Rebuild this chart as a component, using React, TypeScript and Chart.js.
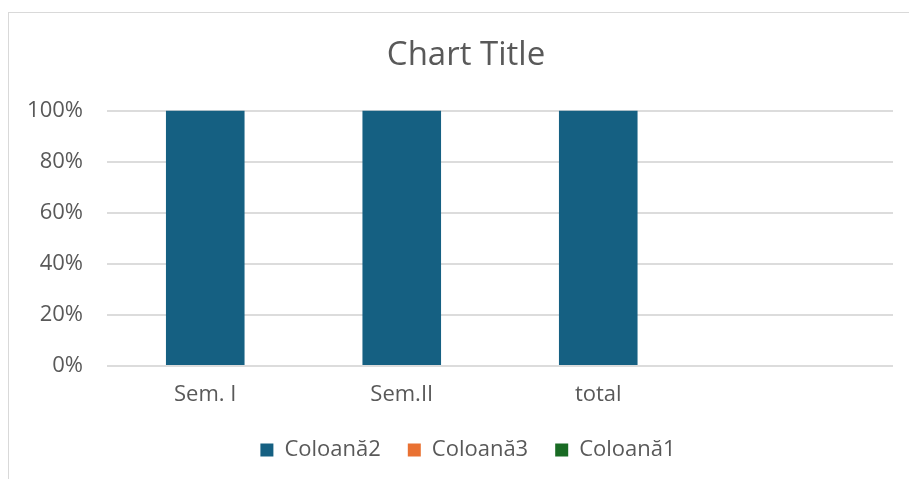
import React, { useEffect, useRef } from "react";
import { Chart, registerables } from "chart.js";

Chart.register(...registerables);

const categories = ["Sem. I", "Sem.II", "total", ""];
const coloana2 = [100, 100, 100, null];
const coloana3 = [0, 0, 0, null];
const coloana1 = [0, 0, 0, null];
const yTicks = [0, 20, 40, 60, 80, 100];

const FONT = "'Open Sans', 'Liberation Sans', sans-serif";
const TEXT = "#595959";
const GRID = "#d9d9d9";

// Excel centres title and legend in a wider chart area than the plot's padding gives
const shiftBoxes = {
  id: "shiftBoxes",
  afterLayout(chart: any) {
    if (chart.titleBlock) {
      chart.titleBlock.left += 15;
      chart.titleBlock.right += 15;
    }
    if (chart.legend) {
      chart.legend.left += 17;
      chart.legend.right += 17;
    }
  },
};

export default function App() {
  const ref = useRef<HTMLCanvasElement | null>(null);

  useEffect(() => {
    if (!ref.current) return;
    const chart = new Chart(ref.current, {
      type: "bar",
      data: {
        labels: categories,
        datasets: [
          { label: "Coloană2", data: coloana2, backgroundColor: "#156082", borderWidth: 0 },
          { label: "Coloană3", data: coloana3, backgroundColor: "#E97132", borderWidth: 0 },
          { label: "Coloană1", data: coloana1, backgroundColor: "#196B24", borderWidth: 0 },
        ],
      },
      options: {
        responsive: false,
        animation: false,
        layout: { padding: { left: 0, right: 16, top: 0, bottom: 8 } },
        datasets: { bar: { barPercentage: 0.4, categoryPercentage: 1 } },
        plugins: {
          title: {
            display: true,
            text: "Chart Title",
            color: TEXT,
            font: { family: FONT, size: 33, weight: "normal" },
            padding: { top: 23, bottom: 35 },
          },
          legend: {
            position: "bottom",
            labels: {
              color: TEXT,
              font: { family: FONT, size: 22 },
              boxWidth: 13,
              boxHeight: 13,
              padding: 27,
            },
          },
          tooltip: { enabled: false },
        },
        scales: {
          x: {
            stacked: true,
            grid: { display: false, drawTicks: false },
            border: { display: false },
            ticks: { color: TEXT, font: { family: FONT, size: 22 }, padding: 16, maxRotation: 0 },
            afterFit: (s: any) => {
              s.height = 46;
            },
          },
          y: {
            stacked: true,
            min: 0,
            max: 100,
            afterBuildTicks: (s: any) => {
              s.ticks = yTicks.map((v) => ({ value: v }));
            },
            grid: { color: "#dcdcdc", lineWidth: 2, drawTicks: false },
            border: { display: false },
            ticks: {
              color: TEXT,
              font: { family: FONT, size: 22 },
              padding: 24,
              callback: (v: any) => v + "%",
            },
            afterFit: (s: any) => {
              s.width = 98;
            },
          },
        },
      },
      plugins: [shiftBoxes],
    });
    return () => chart.destroy();
  }, []);

  return (
    <div
      style={{
        position: "absolute",
        left: 8,
        top: 12,
        width: 901,
        height: 467,
        boxSizing: "border-box",
        borderTop: `1px solid ${GRID}`,
        borderLeft: `1px solid ${GRID}`,
        background: "#fff",
        overflow: "hidden",
      }}
    >
      <canvas ref={ref} width={900} height={466} style={{ display: "block" }} />
    </div>
  );
}
